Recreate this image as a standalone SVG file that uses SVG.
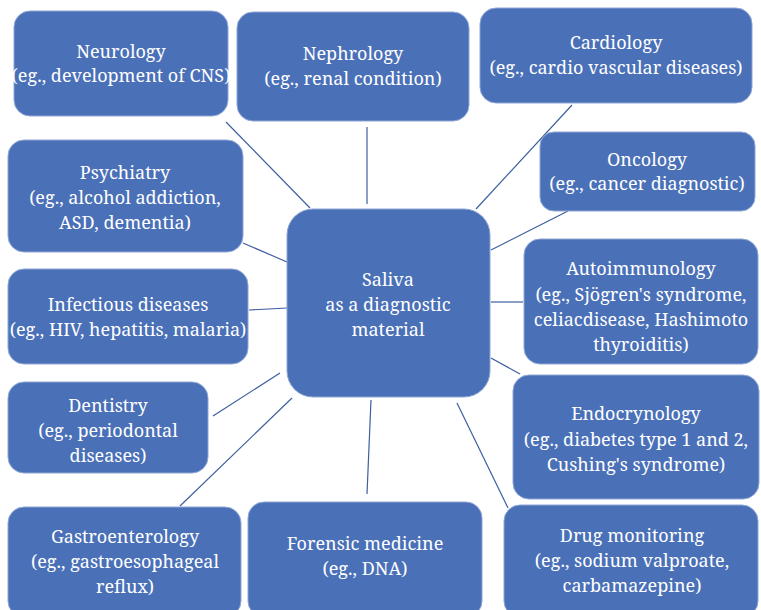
<svg xmlns="http://www.w3.org/2000/svg" width="761" height="610" viewBox="0 0 761 610">
<style>
.box{fill:#4a70b8;stroke:#8ea6d6;stroke-width:1}
.t{font-family:'Noto Serif','DejaVu Serif',serif;font-size:18px;fill:#ffffff;text-anchor:middle}
.c line{stroke:#3d5f9f;stroke-width:1.2}
</style>
<rect width="761" height="610" fill="#ffffff"/>
<g class="c" id="connectors">
<line x1="226" y1="122" x2="310" y2="208"/>
<line x1="367" y1="127" x2="367" y2="204"/>
<line x1="572" y1="105" x2="476" y2="209"/>
<line x1="568" y1="211" x2="491" y2="250"/>
<line x1="243" y1="243" x2="287" y2="262"/>
<line x1="249" y1="310" x2="287" y2="308"/>
<line x1="491" y1="302" x2="523" y2="302"/>
<line x1="491" y1="358" x2="520" y2="374"/>
<line x1="213" y1="416" x2="280" y2="373"/>
<line x1="180" y1="506" x2="292" y2="398"/>
<line x1="371" y1="400" x2="367" y2="494"/>
<line x1="457" y1="403" x2="508" y2="508"/>
</g>
<g id="neurology"><rect class="box" x="14" y="11" width="214" height="105" rx="16"/>
<text class="t" x="121" y="58">Neurology</text><text class="t" x="121" y="82">(eg., development of CNS)</text></g>
<g id="nephrology"><rect class="box" x="237" y="12" width="232" height="109" rx="16"/>
<text class="t" x="353" y="60">Nephrology</text><text class="t" x="353" y="85">(eg., renal condition)</text></g>
<g id="cardiology"><rect class="box" x="480" y="8" width="272" height="95" rx="16"/>
<text class="t" x="616" y="49">Cardiology</text><text class="t" x="616" y="74">(eg., cardio vascular diseases)</text></g>
<g id="oncology"><rect class="box" x="540" y="132" width="215" height="79" rx="14"/>
<text class="t" x="647" y="166">Oncology</text><text class="t" x="647" y="190">(eg., cancer diagnostic)</text></g>
<g id="psychiatry"><rect class="box" x="8" y="140" width="235" height="112" rx="16"/>
<text class="t" x="125" y="179">Psychiatry</text><text class="t" x="125" y="204">(eg., alcohol addiction,</text><text class="t" x="125" y="229">ASD, dementia)</text></g>
<g id="saliva"><rect class="box" x="287" y="209" width="203" height="188" rx="26"/>
<text class="t" x="388" y="286">Saliva</text><text class="t" x="388" y="311">as a diagnostic</text><text class="t" x="388" y="336">material</text></g>
<g id="infectious"><rect class="box" x="8" y="269" width="240" height="95" rx="16"/>
<text class="t" x="128" y="311">Infectious diseases</text><text class="t" x="128" y="336">(eg., HIV, hepatitis, malaria)</text></g>
<g id="autoimmunology"><rect class="box" x="524" y="239" width="234" height="125" rx="16"/>
<text class="t" x="641" y="275">Autoimmunology</text><text class="t" x="641" y="301">(eg., Sjögren's syndrome,</text><text class="t" x="641" y="326">celiacdisease, Hashimoto</text><text class="t" x="641" y="351">thyroiditis)</text></g>
<g id="dentistry"><rect class="box" x="8" y="382" width="200" height="91" rx="16"/>
<text class="t" x="108" y="412">Dentistry</text><text class="t" x="108" y="437">(eg., periodontal</text><text class="t" x="108" y="462">diseases)</text></g>
<g id="endocrynology"><rect class="box" x="513" y="375" width="246" height="124" rx="16"/>
<text class="t" x="636" y="420">Endocrynology</text><text class="t" x="636" y="446">(eg., diabetes type 1 and 2,</text><text class="t" x="636" y="471">Cushing's syndrome)</text></g>
<g id="gastroenterology"><rect class="box" x="8" y="507" width="233" height="110" rx="16"/>
<text class="t" x="125" y="543">Gastroenterology</text><text class="t" x="125" y="568">(eg., gastroesophageal</text><text class="t" x="125" y="593">reflux)</text></g>
<g id="forensic"><rect class="box" x="248" y="502" width="234" height="115" rx="16"/>
<text class="t" x="365" y="550">Forensic medicine</text><text class="t" x="365" y="575">(eg., DNA)</text></g>
<g id="drug"><rect class="box" x="504" y="505" width="254" height="112" rx="16"/>
<text class="t" x="632" y="542">Drug monitoring</text><text class="t" x="632" y="567">(eg., sodium valproate,</text><text class="t" x="632" y="592">carbamazepine)</text></g>
</svg>
